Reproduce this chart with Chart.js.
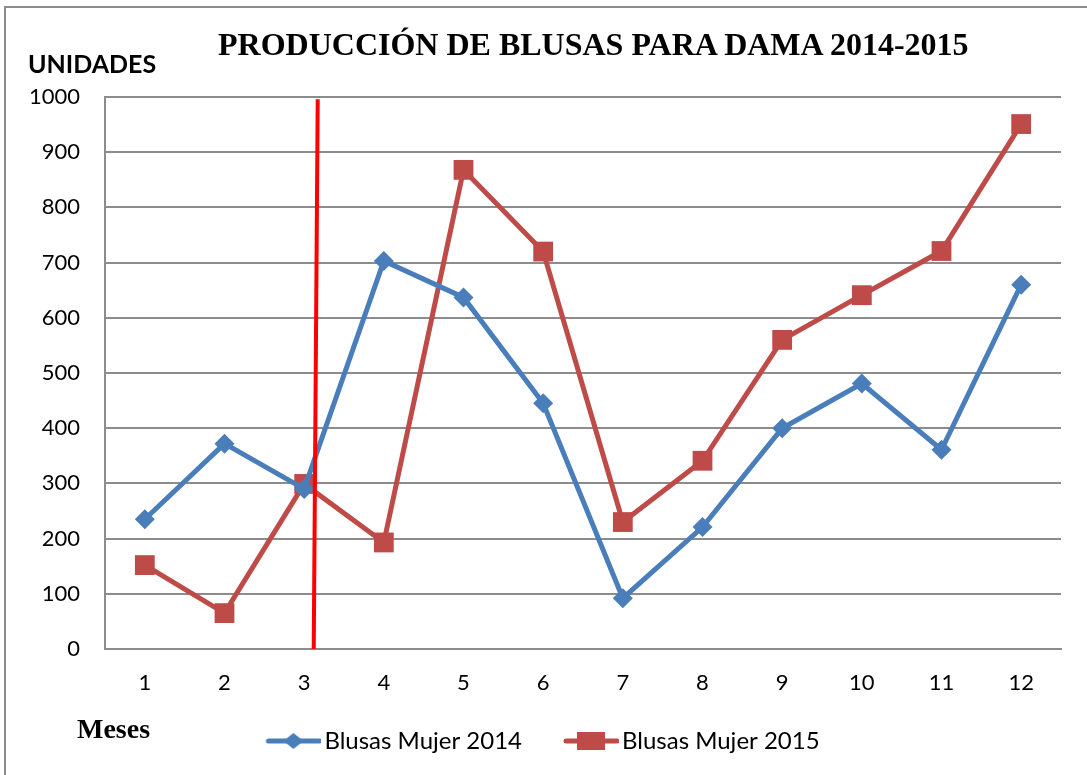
<!DOCTYPE html>
<html>
<head>
<meta charset="utf-8">
<script src="https://cdn.jsdelivr.net/npm/chart.js@4.4.1/dist/chart.umd.min.js"></script>
<style>
  html, body { margin: 0; padding: 0; background: #fff; overflow: hidden; }
  #wrap { position: relative; width: 1087px; height: 775px; overflow: hidden; }
  #frame { position: absolute; left: 4px; top: 6px; width: 1200px; height: 900px; border: 2px solid #8c8c8c; box-sizing: border-box; }
  #chart { position: absolute; left: -20px; top: 0; }
  .txt { position: absolute; white-space: nowrap; color: #000; line-height: 1; }
  #title { left: 218px; top: 26px; font: bold 32px "Liberation Serif", "Times New Roman", serif; }
  #yTitle { left: 28px; top: 48px; font: bold 25px Lato, sans-serif; }
  #xTitle { left: 77px; top: 713px; font: bold 28px "Liberation Serif", "Times New Roman", serif; }
</style>
</head>
<body>
<div id="wrap">
  <div id="frame"></div>
  <canvas id="chart" width="1107" height="775"></canvas>
  <div class="txt" id="title">PRODUCCIÓN DE BLUSAS PARA DAMA 2014-2015</div>
  <div class="txt" id="yTitle">UNIDADES</div>
  <div class="txt" id="xTitle">Meses</div>
</div>
<script>
// months on the x axis
const months = ["1", "2", "3", "4", "5", "6", "7", "8", "9", "10", "11", "12"];

// units produced per month
const blusas2014 = [235, 372, 290, 703, 637, 445, 92, 221, 400, 481, 361, 660];
const blusas2015 = [152, 65, 299, 193, 868, 720, 230, 341, 560, 641, 721, 951];

// red cut line, given in month units at the top (1000) and bottom (0) of the axis
const cutMonth = [3.17, 3.12];
const cutUnits = [996, 0];

const blue = "#4a7ebb";
const red = "#be4b48";
const gridGray = "#8c8c8c";

// legend swatch: line with the marker in the middle
// image is wider than the legend box so the line can sit close to the text
function swatch(color, shape) {
	const c = document.createElement("canvas");
	c.width = 100;
	c.height = 24;
	const ctx = c.getContext("2d");
	ctx.strokeStyle = color;
	ctx.lineWidth = 5;
	ctx.lineCap = "round";
	ctx.beginPath();
	ctx.moveTo(47, 12);
	ctx.lineTo(98, 12);
	ctx.stroke();
	ctx.fillStyle = color;
	const cx = 72;
	if (shape === "diamond") {
		ctx.beginPath();
		ctx.moveTo(cx, 4);
		ctx.lineTo(cx + 10, 12);
		ctx.lineTo(cx, 20);
		ctx.lineTo(cx - 10, 12);
		ctx.closePath();
		ctx.fill();
	} else {
		ctx.fillRect(cx - 14, 3, 28, 18);
	}
	return c;
}

const swatches = [swatch(blue, "diamond"), swatch(red, "square")];

const cutLinePlugin = {
	id: "cutLine",
	afterDatasetsDraw(chart) {
		const x = chart.scales.x;
		const y = chart.scales.y;
		const ctx = chart.ctx;
		ctx.save();
		ctx.strokeStyle = "#ff0000";
		ctx.lineWidth = 4;
		ctx.beginPath();
		ctx.moveTo(x.getPixelForValue(cutMonth[0] - 1), y.getPixelForValue(cutUnits[0]));
		ctx.lineTo(x.getPixelForValue(cutMonth[1] - 1), y.getPixelForValue(cutUnits[1]));
		ctx.stroke();
		ctx.restore();
	},
};

const data = {
	labels: months,
	datasets: [
		{
			label: "Blusas Mujer 2014",
			data: blusas2014,
			borderColor: blue,
			backgroundColor: blue,
			borderWidth: 5,
			pointStyle: "rectRot",
			pointRadius: 10,
			pointBorderWidth: 0,
			pointBackgroundColor: blue,
			tension: 0,
		},
		{
			label: "Blusas Mujer 2015",
			data: blusas2015,
			borderColor: red,
			backgroundColor: red,
			borderWidth: 5,
			pointStyle: "rect",
			pointRadius: 14,
			pointBorderWidth: 0,
			pointBackgroundColor: red,
			tension: 0,
		},
	],
};

const options = {
	responsive: false,
	animation: false,
	devicePixelRatio: 1,
	layout: {
		padding: { top: 97, left: 9, right: 26, bottom: 12 },
	},
	plugins: {
		title: { display: false },
		tooltip: { enabled: false },
		legend: {
			position: "bottom",
			labels: {
				usePointStyle: true,
				pointStyleWidth: 82,
				padding: 6,
				color: "#000",
				font: { family: "Lato", size: 24 },
				generateLabels: (chart) =>
					chart.data.datasets.map((ds, i) => ({
						text: ds.label,
						pointStyle: swatches[i],
						fillStyle: ds.borderColor,
						strokeStyle: ds.borderColor,
						lineWidth: 0,
						hidden: false,
						datasetIndex: i,
						fontColor: "#000",
					})),
			},
		},
	},
	scales: {
		x: {
			offset: true,
			grid: { display: false, drawTicks: false },
			border: { display: true, color: gridGray, width: 2 },
			ticks: { padding: 21, color: "#000", font: { family: "Lato", size: 22 } },
			afterFit: (scale) => {
				scale.height = 74;
			},
		},
		y: {
			min: 0,
			max: 1000,
			ticks: {
				stepSize: 100,
				padding: 25,
				color: "#000",
				font: { family: "Lato", size: 22 },
				callback: (v) => String(v),
			},
			grid: { color: gridGray, lineWidth: 2, drawTicks: false },
			border: { display: true, color: gridGray, width: 2 },
			afterFit: (scale) => {
				scale.width = 116;
			},
		},
	},
};

new Chart(document.getElementById("chart").getContext("2d"), {
	type: "line",
	data,
	options,
	plugins: [cutLinePlugin],
});
</script>
</body>
</html>
